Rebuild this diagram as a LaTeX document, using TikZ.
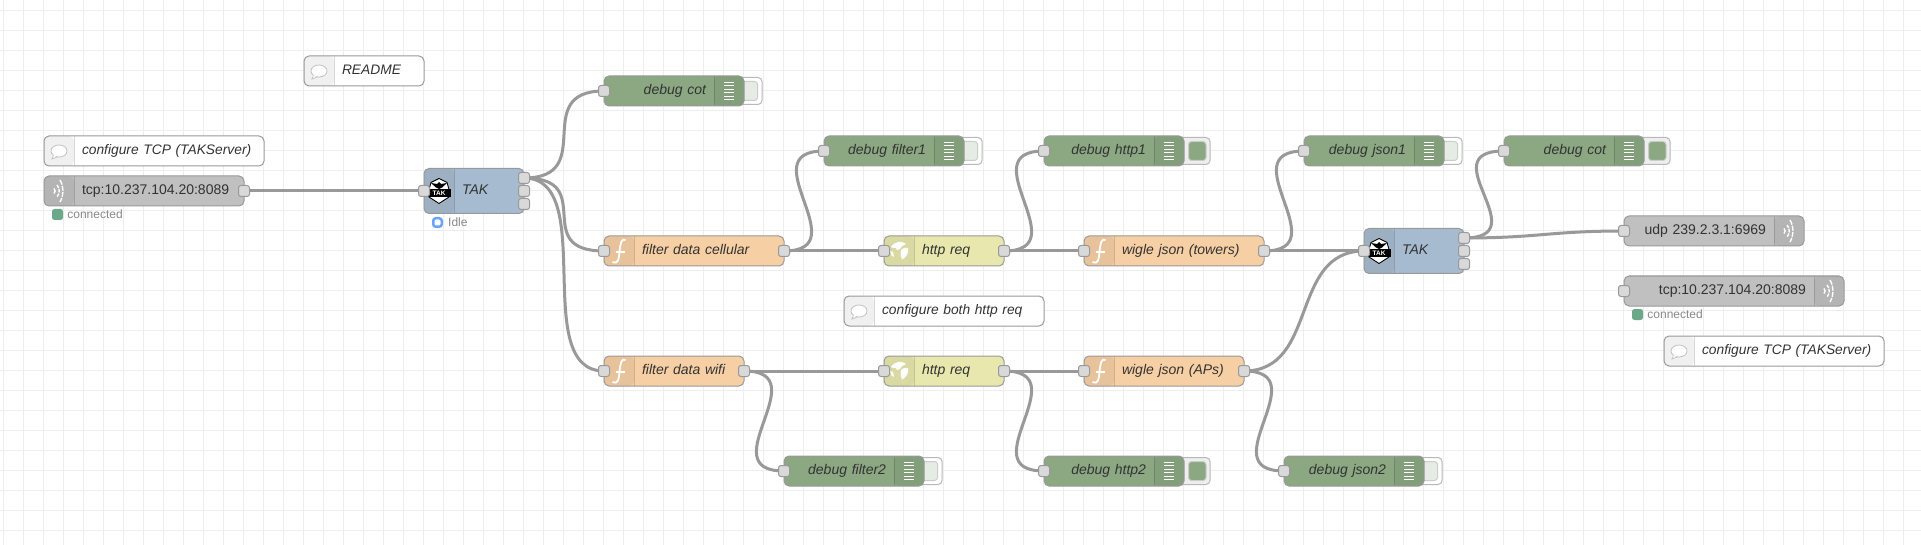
\documentclass[tikz,border=0pt]{standalone}
\usepackage{fontspec}
\setmainfont{Liberation Sans}
\usetikzlibrary{positioning,backgrounds}

\definecolor{gridgray}{HTML}{EEEEEE}
\definecolor{edgegray}{HTML}{999999}
\definecolor{debugcol}{HTML}{8BA882}
\definecolor{funccol}{HTML}{F7CFA4}
\definecolor{httpcol}{HTML}{E7E7AE}
\definecolor{takcol}{HTML}{A6BBCF}
\definecolor{netcol}{HTML}{C0C0C0}
\definecolor{portcol}{HTML}{D9D9D9}
\definecolor{okcol}{HTML}{6BA88A}
\definecolor{idlecol}{HTML}{6AA5F5}
\definecolor{labelcol}{HTML}{333333}
\definecolor{statuscol}{HTML}{888888}

\newcommand{\wire}[2]{\draw[wire] (#1) .. controls +(75,0) and +(-75,0) .. (#2);}

\begin{document}
\begin{tikzpicture}[
		x=1pt, y=-1pt,
		wire/.style={draw=edgegray, line width=3pt},
		gridline/.style={draw=gridgray, line width=1pt},
		flowbox/.style={draw=edgegray, line width=1pt, rounded corners=5pt, outer sep=0pt, inner xsep=0pt, inner ysep=0pt,
			minimum height=30pt, anchor=west, text=labelcol, text height=10pt, text depth=3pt,
			font=\fontsize{14}{16}\selectfont},
		leftbox/.style={flowbox, minimum width=#1 pt, text width=#1 pt, align=left,
			execute at begin node={\hspace*{38pt}},
			path picture={
				\fill[black, opacity=.06] (path picture bounding box.north west) rectangle ([xshift=30pt]path picture bounding box.south west);
				\draw[black, opacity=.15, line width=1pt] ([xshift=30pt]path picture bounding box.north west) -- ([xshift=30pt]path picture bounding box.south west);
			}},
		rightbox/.style={flowbox, minimum width=#1 pt, text width=#1 pt, align=right,
			execute at end node={\hspace*{38pt}},
			path picture={
				\fill[black, opacity=.06] (path picture bounding box.north east) rectangle ([xshift=-30pt]path picture bounding box.south east);
				\draw[black, opacity=.15, line width=1pt] ([xshift=-30pt]path picture bounding box.north east) -- ([xshift=-30pt]path picture bounding box.south east);
			}},
		notebox/.style={leftbox=#1, fill=white, font=\fontsize{13.8}{16}\selectfont\itshape},
		netbox/.style={leftbox=#1, fill=netcol},
		netout/.style={rightbox=#1, fill=netcol},
		funcbox/.style={leftbox=#1, fill=funccol, font=\fontsize{14}{16}\selectfont\itshape},
		httpbox/.style={leftbox=#1, fill=httpcol, font=\fontsize{14}{16}\selectfont\itshape},
		takbox/.style={leftbox=#1, fill=takcol, minimum height=45pt, font=\fontsize{14}{16}\selectfont\itshape},
		debugbox/.style={rightbox=140, fill=debugcol, font=\fontsize{14}{16}\selectfont\itshape},
		port/.style={draw=edgegray, fill=portcol, line width=1pt, rounded corners=2.5pt, minimum size=11pt, inner sep=0pt},
		led/.style={fill=okcol, rounded corners=2.5pt, minimum size=11pt, inner sep=0pt},
		idleled/.style={draw=idlecol, line width=2.5pt, fill=white, rounded corners=2.5pt, minimum size=8.5pt, inner sep=0pt},
		statustext/.style={text=statuscol, inner sep=0pt, font=\fontsize{12}{14}\selectfont},
		btnshell/.style={draw=edgegray!70, line width=1pt, rounded corners=4pt},
		bars/.pic={\foreach \yy in {-8.75,-5.25,-1.75,1.75,5.25,8.75} \draw[white, line width=1.1pt] (-5,\yy) -- (5,\yy);},
		fnmark/.pic={
			\draw[white, line width=1.8pt] (6.5,-11) .. controls (2.5,-13) and (1.5,-8) .. (.5,0) .. controls (0,8) and (-.5,13.5) .. (-6.5,11);
			\draw[white, line width=1.5pt] (-3,1) -- (5.5,1);},
		globe/.pic={
			\fill[white] (-8,-4) .. controls (-4,-10) and (3,-10.5) .. (7,-7) -- (3,-5) -- (1,-2) -- (-2,-1) -- (-3,-3) -- (-6,-3) -- cycle;
			\fill[white] (2,-1) -- (5,-3) -- (9,-3) .. controls (10,2) and (7,7) .. (3,8.5) -- (1.5,4) -- cycle;
			\fill[white] (-9,0) -- (-6,1) -- (-5,6) -- (-7.5,4.5) -- cycle;},
		waves/.pic={
			\draw[white, line width=1.4pt, dash pattern=on 5pt off 1.2pt] (1,-11) .. controls (5,-4) and (5,4) .. (1,11);
			\draw[white, line width=1.4pt, dash pattern=on 3.5pt off 1pt] (-2,-6) .. controls (1,-2) and (1,2) .. (-2,6);
			\draw[white, line width=1.4pt] (-5,-2.5) .. controls (-3.5,-1) and (-3.5,1) .. (-5,2.5);},
		bubble/.pic={
			\draw[draw=edgegray!60, fill=white, line width=.8pt] (-5,3.5) -- (-7,8) -- (-1,5.6);
			\draw[draw=edgegray!60, fill=white, line width=.8pt] (0,0) ellipse [x radius=8pt, y radius=6pt];
			\fill[white] (-4.5,3) -- (-6,6.5) -- (-1,4.8) -- cycle;},
		shield/.pic={
			\draw[black, fill=white, line width=.9pt, line join=round] (0,-12.5) -- (8,-8.5) -- (10,-1.5) -- (10,6) -- (0,12.5) -- (-10,6) -- (-10,-1.5) -- (-8,-8.5) -- cycle;
			\fill[black] (0,-9) -- (2,-7) -- (8,-8) -- (3,-3.5) -- (0,-2) -- (-3,-3.5) -- (-8,-8) -- (-2,-7) -- cycle;
			\fill[black] (-11.5,-1.5) rectangle (11.5,6);
			\node[text=white, inner sep=0pt, font=\fontsize{6.5}{7}\selectfont\bfseries] (-name) at (0,2.4) {TAK};}
		]
		\useasboundingbox (0,0) rectangle (1921,545);
		
		\node[notebox=120] (readme) at (304,71) {README};
		\node[notebox=220] (note1) at (44,151) {configure TCP (TAKServer)};
		\node[netbox=200] (tcp1) at (44,191) {tcp:10.237.104.20:8089};
		\node[takbox=100, right=180pt of tcp1] (tak1) {TAK};
		
		\node[debugbox] (dbgcot1) at (604,91) {debug cot};
		\node[debugbox] (dbgf1) at (824,151) {debug filter1};
		\node[debugbox, right=80pt of dbgf1] (dbghttp1) {debug http1};
		\node[debugbox, right=120pt of dbghttp1] (dbgjson1) {debug json1};
		\node[debugbox, right=60pt of dbgjson1] (dbgcot2) {debug cot};
		
		\node[funcbox=180] (fcell) at (604,251) {filter data cellular};
		\node[httpbox=120, right=100pt of fcell] (http1) {http req};
		\node[funcbox=180, right=80pt of http1] (towers) {wigle json (towers)};
		\node[takbox=100, right=100pt of towers] (tak2) {TAK};
		
		\node[notebox=200] (note2) at (844,311) {configure both http req};
		
		\node[funcbox=140] (fwifi) at (604,371) {filter data wifi};
		\node[httpbox=120, right=140pt of fwifi] (http2) {http req};
		\node[funcbox=160, right=80pt of http2] (aps) {wigle json (APs)};
		
		\node[debugbox] (dbgf2) at (784,471) {debug filter2};
		\node[debugbox, right=120pt of dbgf2] (dbghttp2) {debug http2};
		\node[debugbox, right=100pt of dbghttp2] (dbgjson2) {debug json2};
		
		\node[netout=180] (udp) at (1624,231) {udp 239.2.3.1:6969};
		\node[netout=220] (tcp2) at (1624,291) {tcp:10.237.104.20:8089};
		\node[notebox=220] (note3) at (1664,351) {configure TCP (TAKServer)};
		
		% status under the nodes
		\node[led] (led1) at (57.5,214.5) {};
		\node[statustext, right=4pt of led1] (stat1) {connected};
		\node[idleled] (led2) at (437.5,222.5) {};
		\node[statustext, right=5pt of led2] (stat2) {Idle};
		\node[led] (led3) at (1637.5,314.5) {};
		\node[statustext, right=4pt of led3] (stat3) {connected};
		
		\begin{pgfonlayer}{background}
			\fill[white] (0,0) rectangle (1921,545);
			\foreach \x in {3.5,23.5,...,1920} \draw[gridline] (\x,0) -- (\x,545);
			\foreach \y in {10.5,30.5,...,545} \draw[gridline] (0,\y) -- (1921,\y);
			\foreach \n in {dbgcot1,dbgf1,dbgjson1,dbgf2,dbgjson2} {
				\draw[btnshell, fill=white] ([xshift=-8pt,yshift=13.5pt]\n.east) rectangle ([xshift=18pt,yshift=-13.5pt]\n.east);
				\draw[draw=edgegray!50, line width=1pt, rounded corners=3pt, fill=debugcol!22] ([xshift=-8pt,yshift=9.5pt]\n.east) rectangle ([xshift=13.5pt,yshift=-9.5pt]\n.east);
			}
			\foreach \n in {dbghttp1,dbgcot2,dbghttp2} {
				\draw[btnshell, fill=gridgray] ([xshift=-8pt,yshift=13.5pt]\n.east) rectangle ([xshift=26pt,yshift=-13.5pt]\n.east);
				\draw[draw=edgegray!50, line width=1pt, rounded corners=3pt, fill=debugcol] ([xshift=4.5pt,yshift=9.5pt]\n.east) rectangle ([xshift=22pt,yshift=-9.5pt]\n.east);
			}
		\end{pgfonlayer}
		
		\foreach \n in {dbgcot1,dbgf1,dbghttp1,dbgjson1,dbgcot2,dbgf2,dbghttp2,dbgjson2} \pic at ([xshift=-15pt]\n.east) {bars};
		\foreach \n in {fcell,towers,fwifi,aps} \pic at ([xshift=15pt]\n.west) {fnmark};
		\foreach \n in {http1,http2} \pic at ([xshift=15pt]\n.west) {globe};
		\pic at ([xshift=15pt]tcp1.west) {waves};
		\pic at ([xshift=-15pt]udp.east) {waves};
		\pic at ([xshift=-15pt]tcp2.east) {waves};
		\foreach \n in {readme,note1,note2,note3} \pic at ([xshift=15pt]\n.west) {bubble};
		\pic (logo1) at ([xshift=15pt]tak1.west) {shield};
		\pic (logo2) at ([xshift=15pt]tak2.west) {shield};
		
		\coordinate (tak1out) at ([yshift=13pt]tak1.east);
		\coordinate (tak1mid) at ([yshift=-13pt]tak1.east);
		\coordinate (tak2out) at ([yshift=13pt]tak2.east);
		\coordinate (tak2mid) at ([yshift=-13pt]tak2.east);
		
		\wire{tcp1.east}{tak1.west}
		\wire{tak1out}{dbgcot1.west}
		\wire{tak1out}{fcell.west}
		\wire{tak1out}{fwifi.west}
		\wire{fcell.east}{dbgf1.west}
		\wire{fcell.east}{http1.west}
		\wire{http1.east}{dbghttp1.west}
		\wire{http1.east}{towers.west}
		\wire{towers.east}{dbgjson1.west}
		\wire{towers.east}{tak2.west}
		\wire{fwifi.east}{dbgf2.west}
		\wire{fwifi.east}{http2.west}
		\wire{http2.east}{dbghttp2.west}
		\wire{http2.east}{aps.west}
		\wire{aps.east}{dbgjson2.west}
		\wire{aps.east}{tak2.west}
		\wire{tak2out}{dbgcot2.west}
		\wire{tak2out}{udp.west}
		
		% ports go on top of the wires
		\foreach \n in {tak1,tak2,fcell,fwifi,http1,http2,towers,aps,dbgcot1,dbgf1,dbghttp1,dbgjson1,dbgcot2,dbgf2,dbghttp2,dbgjson2,udp,tcp2}
			\node[port] (\n-in) at (\n.west) {};
		\foreach \n in {tcp1,tak1,tak2,fcell,fwifi,http1,http2,towers,aps}
			\node[port] (\n-out) at (\n.east) {};
		\node[port] (tak1-top) at (tak1out) {};
		\node[port] (tak1-low) at (tak1mid) {};
		\node[port] (tak2-top) at (tak2out) {};
		\node[port] (tak2-low) at (tak2mid) {};
	\end{tikzpicture}
\end{document}
